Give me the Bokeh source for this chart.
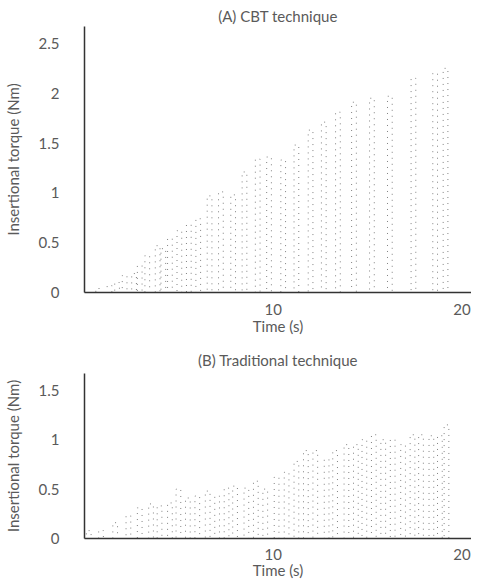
from bokeh.plotting import figure
from bokeh.layouts import column
from bokeh.models import FixedTicker, Range1d
from bokeh.embed import file_html
from bokeh.resources import INLINE

# ---------------- data ----------------
# Panel A: CBT technique - time of each torque cycle peak (s) and its peak torque (Nm)
a_peak_time = [0.7, 1.3, 1.7, 2.1, 2.6, 2.9, 3.3, 3.85, 4.15, 4.5, 5.0, 5.5, 6.0,
               6.6, 7.2, 7.85, 8.45, 9.15, 9.75, 10.5, 11.2, 11.95, 12.65, 13.4,
               14.25, 15.2, 16.15, 17.4, 18.55, 19.1]
a_peak_torque = [0.04, 0.07, 0.10, 0.17, 0.19, 0.27, 0.37, 0.47, 0.44, 0.54, 0.62,
                 0.68, 0.74, 0.97, 1.01, 0.98, 1.21, 1.34, 1.36, 1.33, 1.48, 1.63,
                 1.71, 1.81, 1.91, 1.95, 1.97, 2.15, 2.20, 2.25]

# Panel B: Traditional technique
b_peak_time = [0.2, 0.85, 1.6, 2.3, 2.9, 3.5, 3.95, 4.5, 4.95, 5.45, 5.95, 6.5,
               7.0, 7.5, 7.95, 8.55, 9.05, 9.55, 10.15, 10.68, 11.2, 11.7, 12.2,
               12.8, 13.25, 13.85, 14.35, 14.8, 15.3, 15.8, 16.3, 16.85, 17.35,
               17.8, 18.35, 18.8, 19.15]
b_peak_torque = [0.08, 0.08, 0.16, 0.23, 0.31, 0.35, 0.33, 0.36, 0.50, 0.41, 0.43,
                 0.48, 0.43, 0.51, 0.53, 0.51, 0.58, 0.50, 0.62, 0.67, 0.78, 0.89,
                 0.89, 0.80, 0.89, 0.95, 0.95, 1.00, 1.05, 1.00, 1.00, 0.95, 1.05,
                 1.05, 1.04, 1.04, 1.15]

x_ticks = [10, 20]
a_y_ticks = [0, 0.5, 1, 1.5, 2, 2.5]
b_y_ticks = [0, 0.5, 1, 1.5]

# ---------------- drawing ----------------
RISE_LEAD = 0.10   # s before the peak where the rise column sits
FALL_LAG = 0.15    # s after the peak where the release column sits
FONT = "Lato"
TXT = "#5a5a5a"
TRACE = "#808080"


def trace(times, peaks):
    xs, ys = [0.0], [0.0]
    for t, p in zip(times, peaks):
        xs += [t - RISE_LEAD, t - RISE_LEAD, t + FALL_LAG, t + FALL_LAG]
        ys += [0.0, p, p, 0.0]
    xs.append(times[-1] + FALL_LAG + 0.3)
    ys.append(0.0)
    return xs, ys


def panel(title, times, peaks, y_end, y_ticks, height, top, bottom, standoff,
          lab_off, axlab_off):
    p = figure(width=471, height=height, output_backend="svg", toolbar_location=None,
               x_range=Range1d(0, 20.5), y_range=Range1d(0, y_end),
               min_border_left=83, min_border_right=0,
               min_border_top=top, min_border_bottom=bottom, title=title)
    p.title.align = "center"
    p.title.offset = 6
    p.title.text_font = FONT
    p.title.text_font_style = "normal"
    p.title.text_font_size = "15px"
    p.title.text_color = TXT
    p.title.standoff = standoff
    p.outline_line_color = None
    p.grid.visible = False
    p.background_fill_color = "white"

    xs, ys = trace(times, peaks)
    p.line(xs, ys, line_color=TRACE, line_width=1, line_dash="1 5")

    for ax in (p.xaxis[0], p.yaxis[0]):
        ax.axis_line_color = "#333333"
        ax.axis_line_width = 1.5
        ax.major_tick_line_color = None
        ax.minor_tick_line_color = None
        ax.major_tick_in = 0
        ax.major_tick_out = 0
        ax.minor_tick_in = 0
        ax.minor_tick_out = 0
        ax.major_label_text_font = FONT
        ax.major_label_text_font_size = "15px"
        ax.major_label_text_color = TXT
        ax.axis_label_text_font = FONT
        ax.axis_label_text_font_size = "15px"
        ax.axis_label_text_font_style = "normal"
        ax.axis_label_text_color = TXT
    p.xaxis.ticker = FixedTicker(ticks=x_ticks)
    p.yaxis.ticker = FixedTicker(ticks=y_ticks)
    p.xaxis.axis_label = "Time (s)"
    p.yaxis.axis_label = "Insertional torque (Nm)"
    p.xaxis.major_label_standoff = lab_off
    p.xaxis.axis_label_standoff = axlab_off
    p.yaxis.major_label_standoff = 25
    p.yaxis.axis_label_standoff = 14
    return p


pa = panel("(A) CBT technique", a_peak_time, a_peak_torque, 2.67, a_y_ticks,
           340, 26, 48, 4, 11, -1)
pb = panel("(B) Traditional technique", b_peak_time, b_peak_torque, 1.67, b_y_ticks,
           244, 33, 46, 10, 10, -2)

layout = column(pa, pb, spacing=0)
open("out.html", "w").write(file_html(layout, INLINE))
